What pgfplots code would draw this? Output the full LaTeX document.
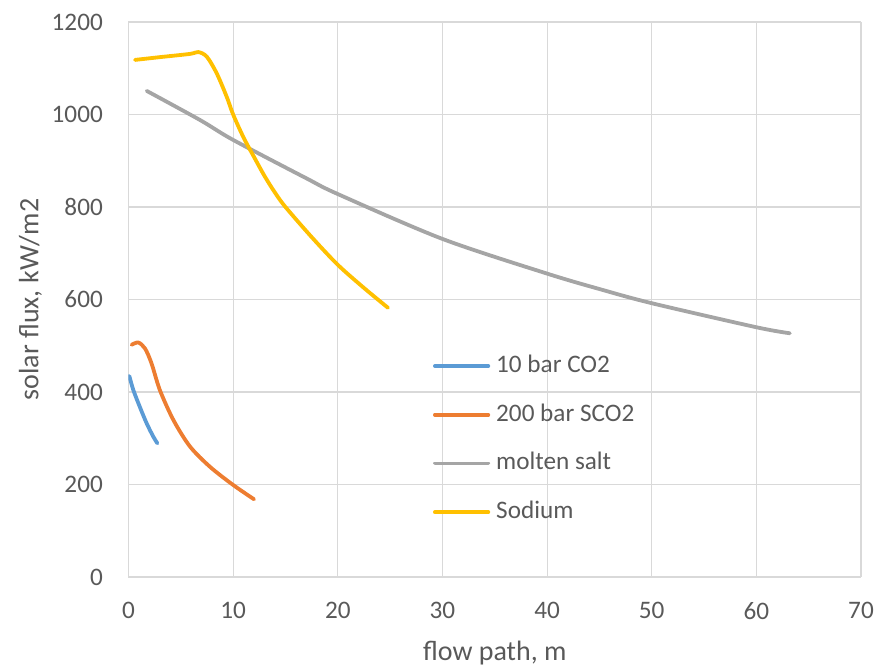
\documentclass[border=0pt]{standalone}
\usepackage{fontspec}
\setmainfont{Carlito}
\usepackage{pgfplots}
\pgfplotsset{compat=1.18}
\definecolor{cblue}{HTML}{5B9BD5}
\definecolor{corange}{HTML}{ED7D31}
\definecolor{cgray}{HTML}{A5A5A5}
\definecolor{cgold}{HTML}{FFC000}
\definecolor{gridc}{HTML}{D9D9D9}
\definecolor{textc}{HTML}{595959}
\begin{document}
\begin{tikzpicture}
\useasboundingbox (-128.5pt,-91pt) rectangle (748.5pt,577pt);
\begin{axis}[
  at={(0pt,0pt)}, anchor=south west,
  scale only axis, width=732.5pt, height=555pt,
  xmin=0, xmax=70, ymin=0, ymax=1200,
  xtick={0,10,...,70}, ytick={0,200,...,1200},
  scaled ticks=false,
  /pgf/number format/1000 sep={},
  /pgf/number format/assume math mode=true,
  grid=major, grid style={draw=gridc, line width=1.1pt},
  axis line style={draw=none},
  major tick length=0pt,
  tick style={draw=none},
  tick label style={font=\fontsize{25.2}{30}\selectfont, text=textc, inner sep=0pt},
  xticklabel shift=25pt, yticklabel shift=25.5pt,
  xlabel={flow path, m},
  ylabel={solar flux, kW/m2},
  label style={font=\fontsize{28}{33}\selectfont, text=textc},
  xlabel style={at={([yshift=-83pt]axis description cs:0.5,0)}, anchor=base},
  ylabel style={at={([xshift=-90pt]axis description cs:0,0.5)}, anchor=base},
  legend style={at={(axis cs:29.1,481)}, anchor=north west, draw=none, fill=none,
    inner sep=0pt, outer sep=0pt, row sep=25.7pt, column sep=6pt,
    nodes={inner sep=0pt, text height=18pt, text depth=5pt, text=textc},
    font=\fontsize{25.2}{30}\selectfont},
  legend cell align=left,
  legend image code/.code={\draw[#1] (1.8pt,0pt) -- (55.2pt,0pt);},
  every axis plot/.append style={line width=3.8pt, line cap=round, line join=round},
]
\addplot[cblue, smooth] coordinates {
(0.08,434.6) (0.46,404.3) (1.10,366.8) (1.74,332) (2.37,303.4) (2.76,289)
};
\addlegendentry{10 bar CO2}
\addplot[corange, smooth] coordinates {
(0.3,502) (0.94,507) (1.58,494) (2.2,462) (3.0,404) (4.3,339) (5.88,282) (7.8,238) (10.0,199) (12.0,168)
};
\addlegendentry{200 bar SCO2}
\addplot[cgray, smooth] coordinates {
(1.74,1051) (6.84,988) (10,945) (17,862) (20,828) (30,731) (40,656) (45.1,622) (50,592) (60,540) (63.2,527)
};
\addlegendentry{molten salt}
\addplot[cgold, smooth] coordinates {
(0.62,1118) (3,1124) (5.88,1131) (6.67,1135) (7.48,1125) (8.43,1089) (9.39,1038) (10,1000) (11,950) (12,908) (13,867) (14,831) (15,800) (17.5,735) (20,675) (22.5,625) (24.8,582)
};
\addlegendentry{Sodium}
\end{axis}
\end{tikzpicture}
\end{document}
